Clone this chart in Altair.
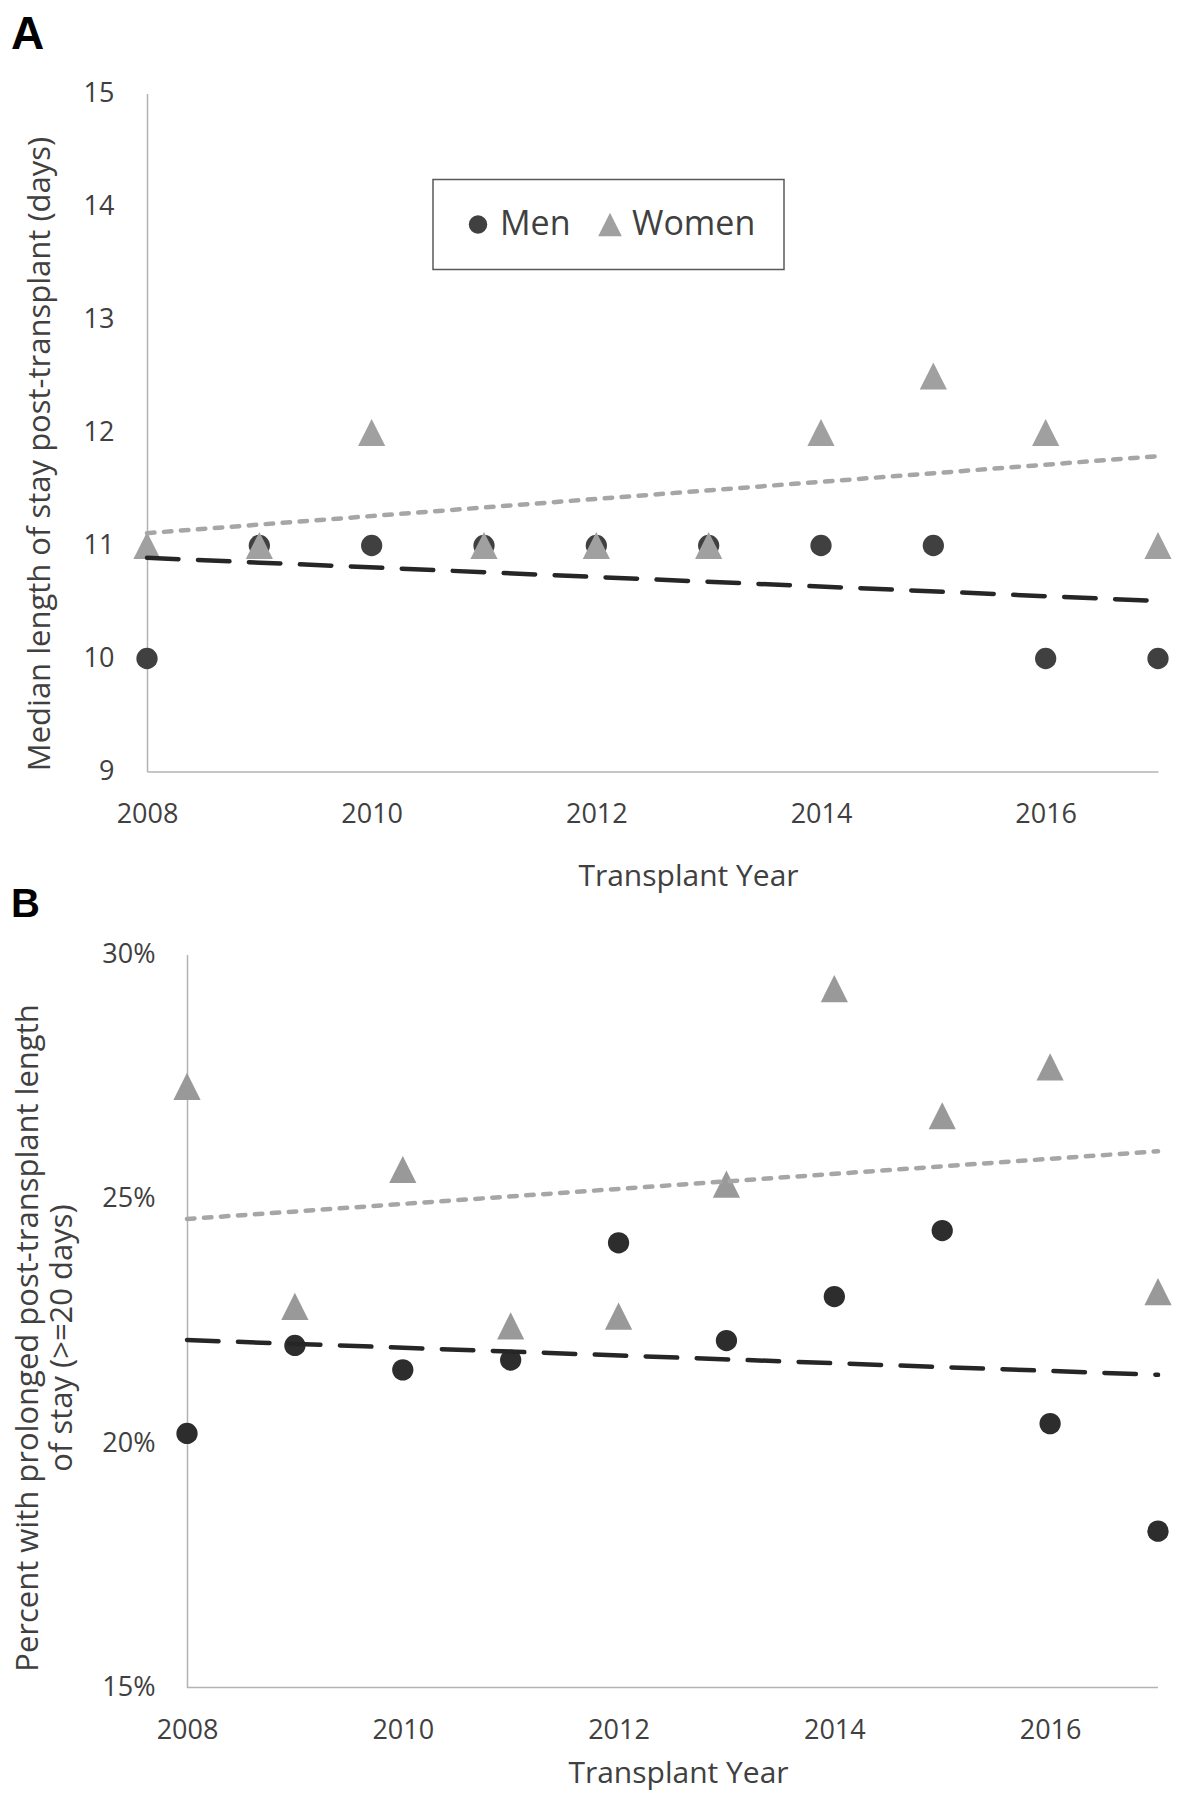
import altair as alt
import pandas as pd

# ---------------- data ----------------
years = [2008, 2009, 2010, 2011, 2012, 2013, 2014, 2015, 2016, 2017]
groups = ["Men", "Women"]

# Panel A: median length of stay post-transplant (days)
los_men = [10, 11, 11, 11, 11, 11, 11, 11, 10, 10]
los_women = [11, 11, 12, 11, 11, 11, 12, 12.5, 12, 11]

# Panel B: percent with prolonged post-transplant LOS (>=20 days)
pct_men = [20.2, 22.0, 21.5, 21.7, 24.1, 22.1, 23.0, 24.35, 20.4, 18.2]
pct_women = [27.3, 22.8, 25.6, 22.4, 22.6, 25.3, 29.3, 26.7, 27.7, 23.1]

x_ticks = [2008, 2010, 2012, 2014, 2016]
los_ticks = [9, 10, 11, 12, 13, 14, 15]
pct_ticks = [15, 20, 25, 30]


def frame(men, women):
    return pd.DataFrame({
        "year": years + years,
        "sex": [groups[0]] * len(years) + [groups[1]] * len(years),
        "value": list(men) + list(women),
    })


# ---------------- styles ----------------
FONT = "Open Sans"
TXT = "#404040"
AXIS_LINE = "#b3b3b3"
TRI = "M0,-1.28L-1.28,1.28L1.28,1.28Z"

axis_common = dict(
    ticks=False, tickSize=0, grid=False,
    domainColor=AXIS_LINE, domainWidth=1.5,
    labelFont=FONT, labelFontSize=27, labelColor=TXT,
    labelFlush=False, labelOverlap=False,
    titleFont=FONT, titleFontWeight="normal", titleColor=TXT,
    titleBaseline="middle", titleAlign="center",
)


def letter(ch, size, xpos, ypos):
    return alt.Chart(pd.DataFrame({"panel": [ch]})).mark_text(
        font="Liberation Sans", fontWeight="bold", fontSize=size,
        align="left", baseline="alphabetic", color="black",
    ).encode(text="panel:N", x=alt.value(xpos), y=alt.value(ypos))


def trend(df, who, color, dash, xenc, yenc):
    return alt.Chart(df).transform_filter(
        alt.datum.sex == who
    ).transform_regression("year", "value").mark_line(
        color=color, strokeWidth=4.5, strokeDash=dash, strokeCap="round",
    ).encode(x=xenc, y=yenc)


# invisible (white) corner that fixes the top-left extent of the page content
anchor = alt.Chart(pd.DataFrame({"k": [0]})).mark_rule(color="white", strokeWidth=1).encode(
    x=alt.value(-138.5), y=alt.value(-120), y2=alt.value(-100)
)

# ---------------- Panel A ----------------
dfA = frame(los_men, los_women)
xA = alt.X("year:Q", scale=alt.Scale(domain=[years[0], years[-1]], nice=False, zero=False),
           axis=alt.Axis(values=x_ticks, format="d", title="Transplant Year", titleFontSize=30,
                         labelPadding=30, titleX=541, titleY=105, **axis_common))
yA = alt.Y("value:Q", scale=alt.Scale(domain=[los_ticks[0], los_ticks[-1]], nice=False, zero=False),
           axis=alt.Axis(values=los_ticks, format="d", titleFontSize=31,
                         title="Median length of stay post-transplant (days)",
                         labelPadding=33, titleX=-107, titleY=360, **axis_common))

legA = alt.Legend(
    title=None, orient="none", legendX=286, legendY=86, direction="horizontal",
    strokeColor="#595959", fillColor="white", padding=28,
    labelFont=FONT, labelFontSize=34, labelColor=TXT, labelOffset=5,
    symbolSize=340, symbolStrokeWidth=0, columnPadding=22,
)

pointsA = alt.Chart(dfA).mark_point(filled=True, opacity=1, size=452, strokeWidth=0).encode(
    x=xA, y=yA,
    color=alt.Color("sex:N", scale=alt.Scale(domain=groups, range=["#404040", "#a0a0a0"]), legend=legA),
    shape=alt.Shape("sex:N", scale=alt.Scale(domain=groups, range=["circle", TRI]), legend=legA),
)

panelA = alt.layer(
    anchor,
    pointsA,
    trend(dfA, "Women", "#a6a6a6", [7.5, 9.5], xA, yA),
    trend(dfA, "Men", "#262626", [31.5, 19.5], xA, yA),
    letter("A", 46, -136, -45),
).properties(width=1011, height=678)

# ---------------- Panel B ----------------
dfB = frame(pct_men, pct_women)
xB = alt.X("year:Q", scale=alt.Scale(domain=[2007.6292, years[-1]], nice=False, zero=False),
           axis=alt.Axis(values=x_ticks, format="d", title="Transplant Year", domain=False,
                         titleFontSize=30, labelPadding=30, titleX=531, titleY=86, **axis_common))
yB = alt.Y("value:Q", scale=alt.Scale(domain=[pct_ticks[0], pct_ticks[-1]], nice=False, zero=False),
           axis=alt.Axis(values=pct_ticks, labelExpr="datum.value + '%'", offset=-40,
                         title=["Percent with prolonged post-transplant  length", "of stay (>=20 days)"],
                         titleFontSize=31, titleLineHeight=34,
                         labelPadding=32, titleX=-159, titleY=383, **axis_common))

pointsB = alt.Chart(dfB).mark_point(filled=True, opacity=1, size=452, strokeWidth=0).encode(
    x=xB, y=yB,
    color=alt.Color("sex:N", scale=alt.Scale(domain=groups, range=["#2d2d2d", "#999999"]), legend=None),
    shape=alt.Shape("sex:N", scale=alt.Scale(domain=groups, range=["circle", TRI]), legend=None),
)

baseB = alt.Chart(pd.DataFrame({"year": [years[0]], "year_end": [years[-1]], "value": [pct_ticks[0]]})).mark_rule(
    color=AXIS_LINE, strokeWidth=1.5
).encode(x=xB, x2="year_end:Q", y=yB)

panelB = alt.layer(
    baseB,
    pointsB,
    trend(dfB, "Women", "#a6a6a6", [7.5, 9.5], xB, yB),
    trend(dfB, "Men", "#262626", [31.5, 19.5], xB, yB),
    letter("B", 40, -136, -38),
).properties(width=1011, height=733)

chart = alt.vconcat(panelA, panelB, spacing=183, bounds="flush").resolve_scale(
    x="independent", y="independent", color="independent", shape="independent"
).configure_view(stroke=None).configure_legend(strokeWidth=1.5).properties(
    padding={"left": 0, "top": -35.5, "right": 0, "bottom": 3}, background="white"
)

chart.save("out.html", embed_options={"renderer": "svg", "actions": False})
